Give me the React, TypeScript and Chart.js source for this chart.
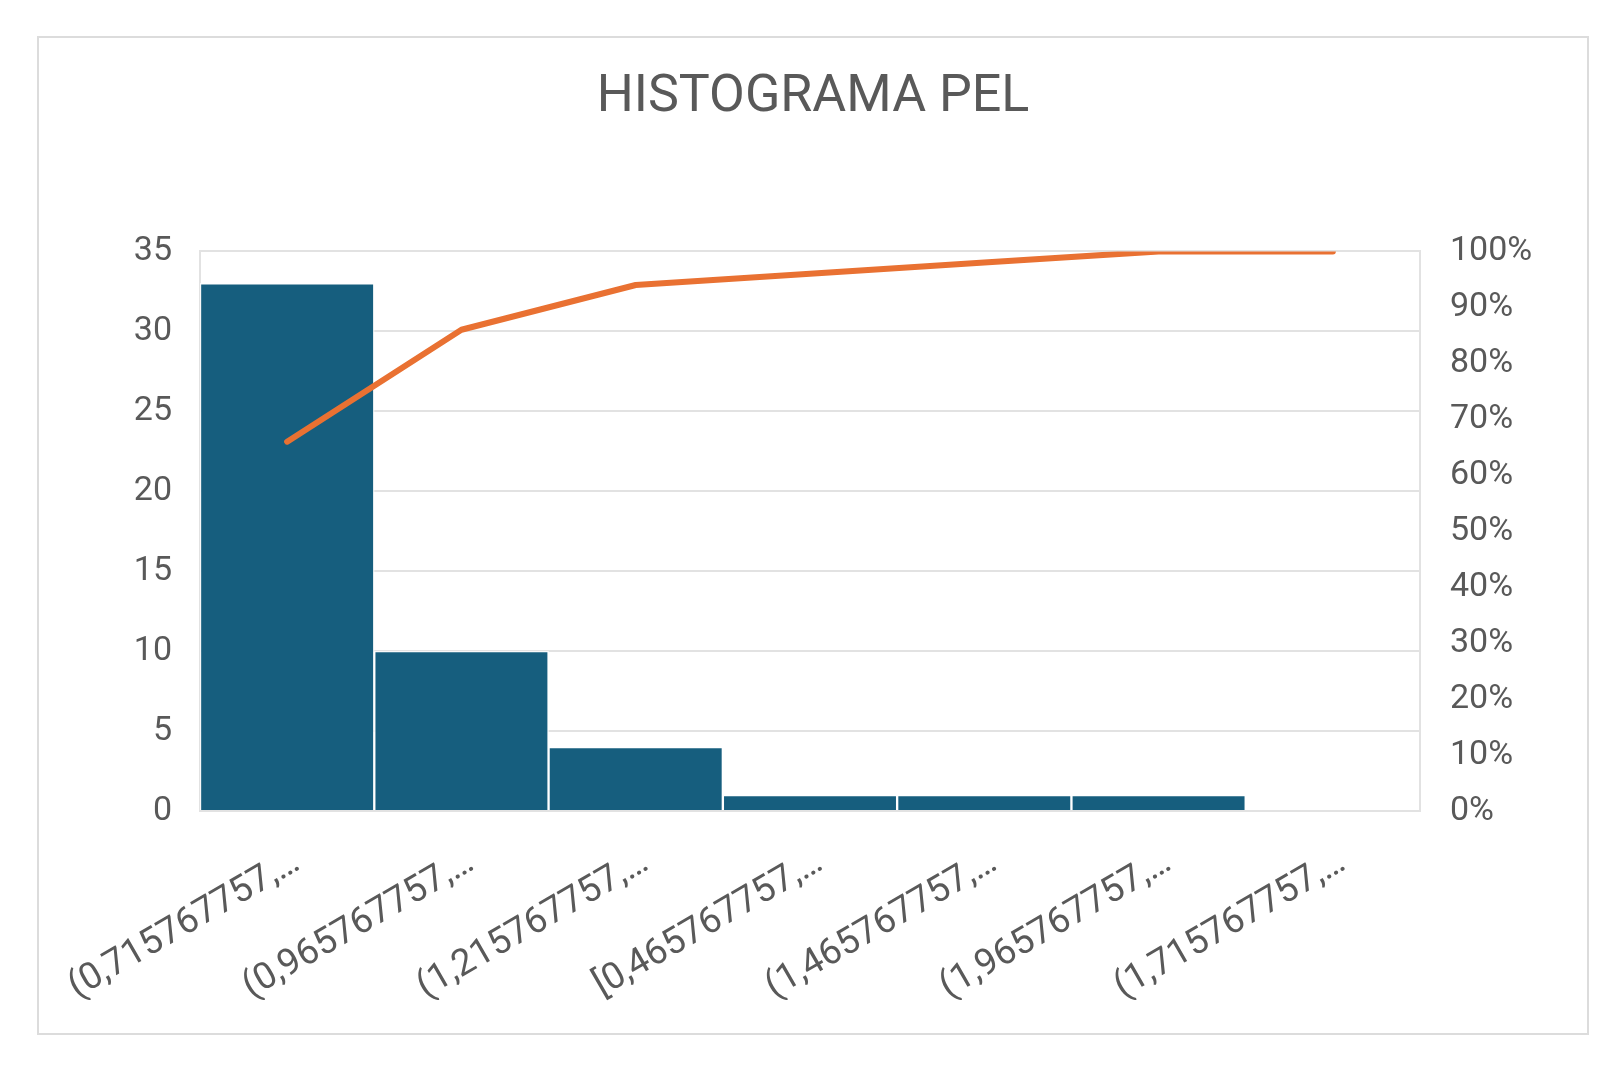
import { useEffect, useRef } from "react"
import { Chart, registerables } from "chart.js"

Chart.register(...registerables)

// bins as Excel labels them (truncated)
const binLabels = [
  "(0,715767757,\u2026",
  "(0,965767757,\u2026",
  "(1,215767757,\u2026",
  "[0,465767757,\u2026",
  "(1,465767757,\u2026",
  "(1,965767757,\u2026",
  "(1,715767757,\u2026",
]
const frequencies = [33, 10, 4, 1, 1, 1, 0]
const cumulativePct = [66, 86, 94, 96, 98, 100, 100]

const countMax = 35
const countStep = 5
const pctMax = 100
const pctStep = 10

const FONT = "Roboto, 'Open Sans', sans-serif"
const TEXT = "#595959"
const GRID = "#e2e2e2"

export default function App() {
  const canvasRef = useRef<HTMLCanvasElement>(null)
  const chartRef = useRef<Chart | null>(null)

  useEffect(() => {
    if (!canvasRef.current) return
    if (chartRef.current) chartRef.current.destroy()

    chartRef.current = new Chart(canvasRef.current, {
      type: "bar",
      data: {
        labels: binLabels,
        datasets: [
          {
            type: "line",
            label: "Cumulative %",
            data: cumulativePct,
            yAxisID: "y1",
            borderColor: "#E97132",
            borderWidth: 6,
            borderCapStyle: "round",
            borderJoinStyle: "round",
            pointRadius: 0,
            tension: 0,
            order: 0,
          },
          {
            type: "bar",
            label: "Frequency",
            data: frequencies,
            yAxisID: "y",
            backgroundColor: "#165E7E",
            borderColor: "rgba(255, 255, 255, 0.75)",
            borderWidth: 1.5,
            categoryPercentage: 1,
            barPercentage: 1,
            order: 1,
          },
        ],
      },
      options: {
        responsive: true,
        maintainAspectRatio: false,
        animation: false,
        layout: { padding: 0 },
        plugins: {
          legend: { display: false },
          tooltip: { enabled: false },
          title: {
            display: true,
            text: "HISTOGRAMA PEL",
            color: TEXT,
            font: { family: FONT, size: 52, weight: "normal" },
            padding: { top: 29, bottom: 122 },
          },
        },
        scales: {
          x: {
            grid: { display: false },
            border: { display: false },
            ticks: {
              color: TEXT,
              font: { family: FONT, size: 37 },
              minRotation: 30,
              maxRotation: 30,
              autoSkip: false,
              padding: 22,
              labelOffset: 10,
            },
            afterFit: (scale) => {
              scale.height = 222
              // rotated labels may run into the left margin; keep plot where it is
              scale.paddingLeft = 0
              scale.paddingRight = 0
            },
          },
          y: {
            position: "left",
            min: 0,
            max: countMax,
            ticks: {
              stepSize: countStep,
              color: TEXT,
              font: { family: FONT, size: 34 },
              padding: 28,
            },
            grid: { color: GRID, lineWidth: 2, drawTicks: false },
            border: { display: true, color: GRID, width: 2 },
            afterFit: (scale) => {
              scale.width = 161
            },
          },
          y1: {
            position: "right",
            min: 0,
            max: pctMax,
            ticks: {
              stepSize: pctStep,
              color: TEXT,
              font: { family: FONT, size: 34 },
              padding: 30,
              callback: (v) => v + "%",
            },
            grid: { display: false, drawTicks: false },
            border: { display: true, color: GRID, width: 2 },
            afterFit: (scale) => {
              scale.width = 167
            },
          },
        },
      },
    })

    return () => {
      if (chartRef.current) {
        chartRef.current.destroy()
        chartRef.current = null
      }
    }
  }, [])

  return (
    <div
      style={{
        position: "absolute",
        left: 37,
        top: 36,
        width: 1552,
        height: 999,
        boxSizing: "border-box",
        border: "2px solid #dcdcdc",
        background: "#fff",
      }}
    >
      <div style={{ position: "relative", width: "100%", height: "100%" }}>
        <canvas ref={canvasRef}></canvas>
      </div>
    </div>
  )
}
